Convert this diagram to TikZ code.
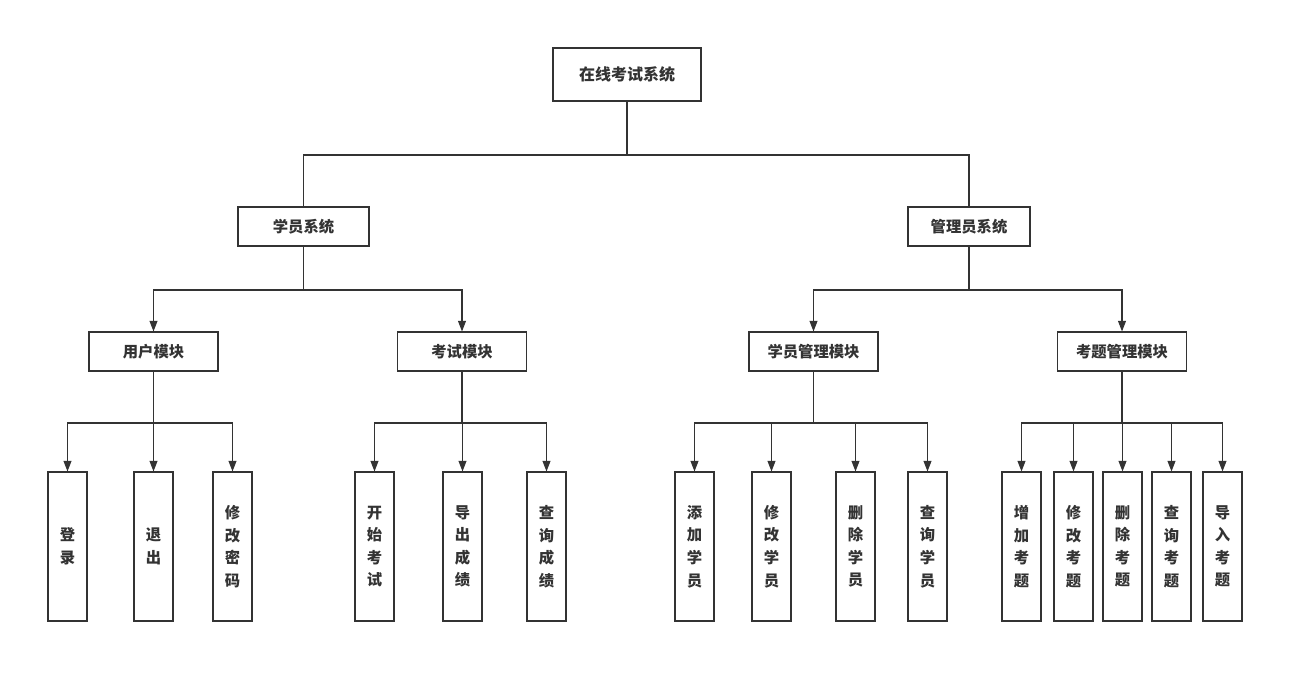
\documentclass[tikz,border=0pt]{standalone}
\usepackage{fontspec}
\newfontfamily\cjk{Noto Sans CJK SC}
\usetikzlibrary{arrows.meta}
\definecolor{linegray}{RGB}{51,51,51}

\tikzset{
	box/.style={draw=linegray, line width=0.8pt, fill=white, text=linegray, inner sep=0pt,
		font=\cjk\bfseries\fontsize{11.5pt}{14pt}\selectfont},
	topbox/.style={box, minimum width=111pt, minimum height=39.75pt,
		font=\cjk\bfseries\fontsize{12pt}{14pt}\selectfont},
	sysbox/.style={box, minimum height=29.25pt},
	modbox/.style={box, minimum width=96.75pt, minimum height=29.25pt},
	leafbox/.style={box, minimum width=29.25pt, minimum height=111.75pt, align=center,
		font=\cjk\bfseries\fontsize{11.5pt}{16.9pt}\selectfont},
	link/.style={draw=linegray, line width=0.8pt},
	arrow/.style={link, -{Triangle[length=8pt,width=6pt]}},
}

\begin{document}
\begin{tikzpicture}[x=0.75pt, y=-0.75pt]
	\useasboundingbox (0,0) rectangle (1304,684);

	% === row heights ===
	\def\ysys{226.5}	\def\ymod{351.5}	\def\yleaf{546.5}

	% === root and subsystems ===
	\node[topbox] (root) at (627,74.5) {在线考试系统};
	\node[sysbox, minimum width=98.25pt] (stu) at (303.5,\ysys) {学员系统};
	\node[sysbox, minimum width=91.5pt] (adm) at (969,\ysys) {管理员系统};
	\coordinate (b0) at (627,155);
	\draw[link] (root) -- (b0) -| (stu);
	\draw[link] (b0) -| (adm);

	% === modules ===
	\node[modbox] (user) at (153.5,\ymod) {用户模块};
	\node[modbox] (exam) at (462,\ymod) {考试模块};
	\node[modbox] (stum) at (813.5,\ymod) {学员管理模块};
	\node[modbox] (qm) at (1122,\ymod) {考题管理模块};
	\coordinate (b1) at (303.5,290);
	\coordinate (b2) at (969,290);
	\draw[link] (stu) -- (b1);
	\draw[link] (adm) -- (b2);
	\draw[arrow] (b1) -| (user);
	\draw[arrow] (b1) -| (exam);
	\draw[arrow] (b2) -| (stum);
	\draw[arrow] (b2) -| (qm);

	% === leaf buses ===
	\coordinate (b3) at (153.5,423);
	\coordinate (b4) at (462,423);
	\coordinate (b5) at (813.5,423);
	\coordinate (b6) at (1122,423);
	\draw[link] (user) -- (b3);
	\draw[link] (exam) -- (b4);
	\draw[link] (stum) -- (b5);
	\draw[link] (qm) -- (b6);

	% === leaves ===
	\foreach \x/\n/\t in {67.5/dl/登\\录, 153.5/tc/退\\出, 232.5/xgmm/修\\改\\密\\码} {
		\node[leafbox] (\n) at (\x,\yleaf) {\t};
		\draw[arrow] (b3) -| (\n);
	}
	\foreach \x/\n/\t in {374.5/ksks/开\\始\\考\\试, 462.5/dccj/导\\出\\成\\绩, 546.5/cxcj/查\\询\\成\\绩} {
		\node[leafbox] (\n) at (\x,\yleaf) {\t};
		\draw[arrow] (b4) -| (\n);
	}
	\foreach \x/\n/\t in {694.5/tjxy/添\\加\\学\\员, 771.5/xgxy/修\\改\\学\\员,
			855.5/scxy/删\\除\\学\\员, 927.5/cxxy/查\\询\\学\\员} {
		\node[leafbox] (\n) at (\x,\yleaf) {\t};
		\draw[arrow] (b5) -| (\n);
	}
	\foreach \x/\n/\t in {1021.5/zjkt/增\\加\\考\\题, 1073.5/xgkt/修\\改\\考\\题,
			1122.5/sckt/删\\除\\考\\题, 1171.5/cxkt/查\\询\\考\\题, 1222.5/drkt/导\\入\\考\\题} {
		\node[leafbox] (\n) at (\x,\yleaf) {\t};
		\draw[arrow] (b6) -| (\n);
	}
\end{tikzpicture}
\end{document}
